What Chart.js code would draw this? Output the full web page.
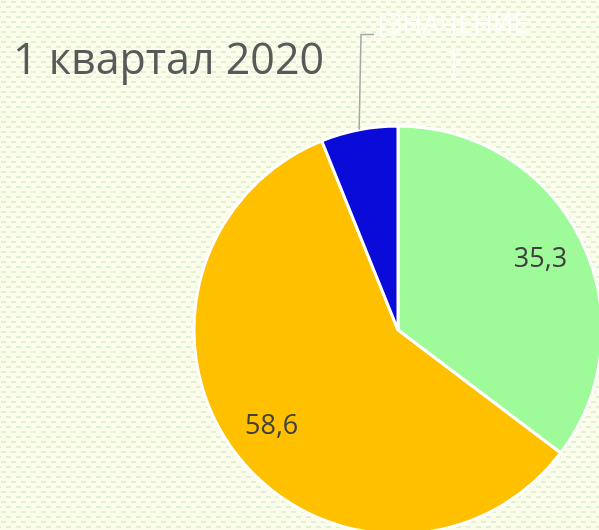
<!DOCTYPE html>
<html>
<head>
<meta charset="utf-8">
<script src="https://cdn.jsdelivr.net/npm/chart.js@4.4.1/dist/chart.umd.min.js"></script>
<style>
  html, body { margin: 0; padding: 0; }
  body { width: 599px; height: 530px; overflow: hidden; background-color: #fbfce9; }
  #wrap { position: relative; width: 599px; height: 530px; }
  #title { position: absolute; left: 13px; top: 36px; font-family: "Open Sans", sans-serif; font-size: 43px; color: #595959; white-space: nowrap; line-height: 1; }
  #c { position: absolute; left: 0; top: 0; }
</style>
</head>
<body>
<div id="wrap">
  <canvas id="c" width="599" height="530"></canvas>
  <div id="title">1 квартал 2020</div>
</div>
<script>
const categories = ["Категория 1", "Категория 2", "Категория 3"];
const values = [35.3, 58.6, 6.1];
const valueLabels = ["35,3", "58,6", "[ЗНАЧЕНИЕ]"];
const sliceColors = ["#9ffb9a", "#ffc000", "#0b0bd9"];

// background pattern
(function(){
  const p = document.createElement('canvas');
  p.width = 10; p.height = 10;
  const g = p.getContext('2d');
  g.fillStyle = '#fbfce9'; g.fillRect(0,0,10,10);
  g.fillStyle = '#dff0d5';
  g.fillRect(1,1,5,2);
  g.fillRect(6,6,4,2); g.fillRect(0,6,1,2);
  document.body.style.backgroundImage = 'url(' + p.toDataURL() + ')';
})();

const labelPlugin = {
  id: 'sliceLabels',
  afterDatasetsDraw(chart) {
    const ctx = chart.ctx;
    const meta = chart.getDatasetMeta(0);
    ctx.save();
    meta.data.forEach((arc, i) => {
      const mid = (arc.startAngle + arc.endAngle) / 2;
      if (i < 2) {
        const r = arc.outerRadius * 0.78;
        const x = arc.x + Math.cos(mid) * r;
        const y = arc.y + Math.sin(mid) * r;
        ctx.font = '27px "Open Sans", sans-serif';
        ctx.fillStyle = '#404040';
        ctx.textAlign = 'center';
        ctx.textBaseline = 'middle';
        ctx.fillText(valueLabels[i], x, y);
      } else {
        const ex = arc.x + Math.cos(mid) * arc.outerRadius;
        const ey = arc.y + Math.sin(mid) * arc.outerRadius;
        ctx.strokeStyle = '#a6a6a6';
        ctx.lineWidth = 1.5;
        ctx.beginPath();
        ctx.moveTo(ex, ey);
        ctx.lineTo(361, 34.5);
        ctx.lineTo(374, 34.5);
        ctx.stroke();
        ctx.font = '27px "Open Sans", sans-serif';
        ctx.fillStyle = '#ffffff';
        ctx.textAlign = 'center';
        ctx.textBaseline = 'alphabetic';
        const t = valueLabels[i];
        ctx.fillText(t.slice(0, t.length - 1), 453, 33);
        ctx.fillText(t.slice(t.length - 1), 453, 71);
      }
    });
    ctx.restore();
  }
};

new Chart(document.getElementById('c'), {
  type: 'pie',
  data: {
    labels: categories,
    datasets: [{
      data: values,
      backgroundColor: sliceColors,
      borderColor: '#ffffff',
      borderWidth: 3,
      clip: false
    }]
  },
  options: {
    responsive: false,
    animation: false,
    radius: 204,
    layout: { padding: { left: 197, right: 0, top: 130, bottom: 0 } },
    plugins: { legend: { display: false }, tooltip: { enabled: false }, title: { display: false } }
  },
  plugins: [labelPlugin]
});
</script>
</body>
</html>
